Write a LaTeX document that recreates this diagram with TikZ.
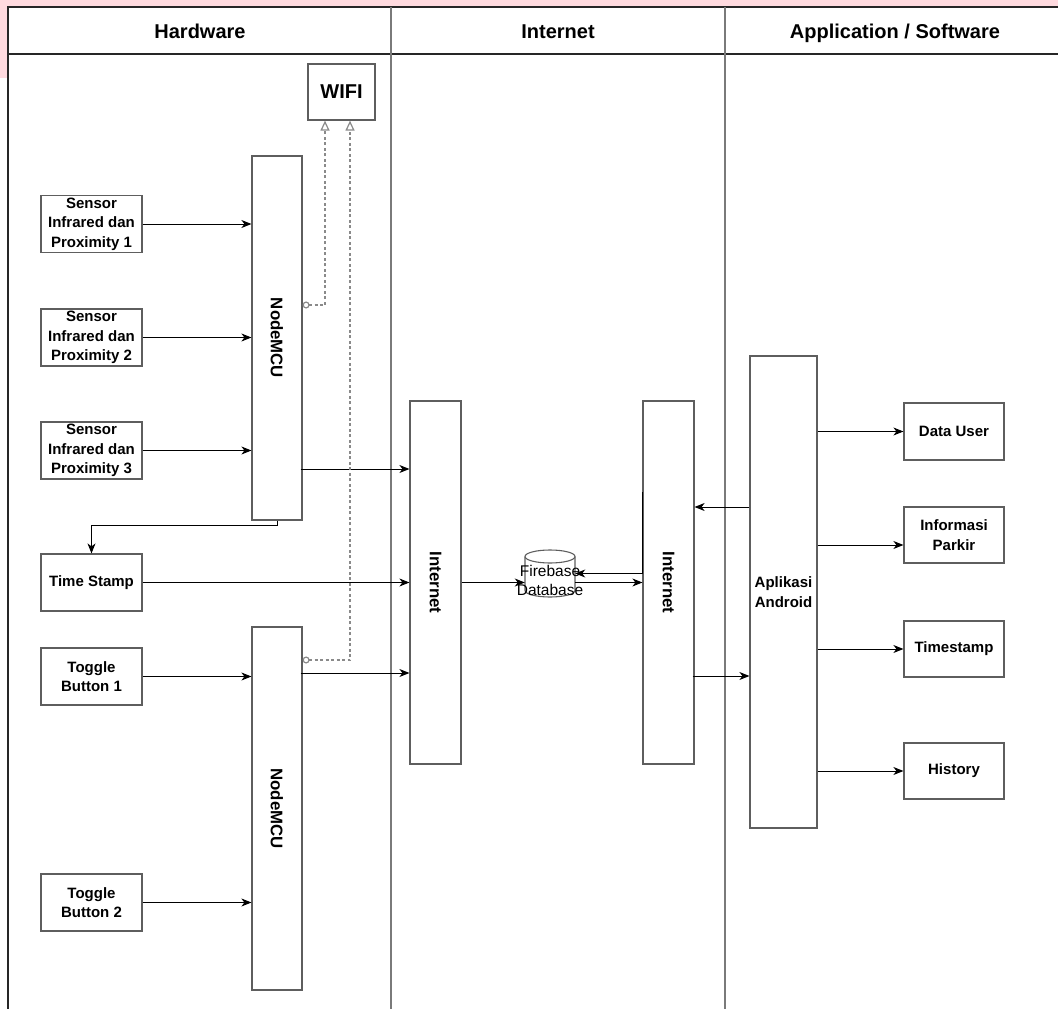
\documentclass[tikz,border=0pt]{standalone}
\usepackage{fontspec}
\setmainfont{Liberation Sans}
\usetikzlibrary{arrows.meta,calc}
\definecolor{pinkbg}{HTML}{FFDADF}
\definecolor{boxgray}{HTML}{5E5E5E}
\definecolor{sepgray}{HTML}{7A7A7A}
\definecolor{dashgray}{HTML}{8A8A8A}
\begin{document}
\begin{tikzpicture}[x=1pt,y=-1pt,
  box/.style={draw=boxgray, line width=1.2pt, fill=white, inner sep=0pt, align=center,
    font=\fontsize{15}{19.5}\selectfont\bfseries},
  vbox/.style={draw=boxgray, line width=1.2pt, fill=white, inner sep=0pt},
  vlabel/.style={rotate=-90, font=\fontsize{16.8}{20}\selectfont\bfseries, inner sep=0pt},
  hdr/.style={font=\fontsize{20}{24}\selectfont\bfseries, inner sep=0pt, text height=14.5pt, text depth=0pt},
  arr/.style={draw=black, line width=1pt, -{Stealth[length=10pt,width=8pt,inset=3pt]}},
  wifiline/.style={draw=dashgray, line width=1.2pt, dash pattern=on 3pt off 2.5pt,
    {Circle[open,length=7pt,width=7pt]}-{Triangle[open,length=10pt,width=9pt]}},
  tline/.style={draw=black!85, line width=1.2pt},
  sline/.style={draw=sepgray, line width=1.2pt}]
\useasboundingbox (0,0) rectangle (1058,1009);
% pink page background fragments
\fill[pinkbg] (0,0) rectangle (1058,7);
\fill[pinkbg] (0,0) rectangle (8,78);
% table
\draw[tline] (8,1009) -- (8,7) -- (1058,7);
\draw[tline] (8,54) -- (1058,54);
\draw[sline] (391,7) -- (391,1009);
\draw[sline] (725,7) -- (725,1009);
\node[hdr] (h1) at (200,31) {Hardware};
\node[hdr] (h2) at (558,31) {Internet};
\node[hdr] (h3) at (895,31) {Application / Software};

% hardware column
\node[box, minimum width=67pt, minimum height=56pt, font=\fontsize{20}{24}\selectfont\bfseries] (wifi) at (341.5,92) {WIFI};
\node[box, minimum width=101pt, minimum height=57pt] (s1) at (91.5,224) {Sensor\\Infrared dan\\Proximity 1};
\node[box, minimum width=101pt, minimum height=57pt] (s2) at (91.5,337.5) {Sensor\\Infrared dan\\Proximity 2};
\node[box, minimum width=101pt, minimum height=57pt] (s3) at (91.5,450.5) {Sensor\\Infrared dan\\Proximity 3};
\node[box, minimum width=101pt, minimum height=57pt] (ts) at (91.5,582.5) {Time Stamp};
\node[box, minimum width=101pt, minimum height=57pt] (t1) at (91.5,676.5) {Toggle\\Button 1};
\node[box, minimum width=101pt, minimum height=57pt] (t2) at (91.5,902.5) {Toggle\\Button 2};
\node[vbox, minimum width=50pt, minimum height=364pt] (n1) at (277,338) {};
\node[vlabel] (n1l) at (n1.center) {NodeMCU};
\node[vbox, minimum width=50pt, minimum height=363pt] (n2) at (277,808.5) {};
\node[vlabel] (n2l) at (n2.center) {NodeMCU};

% internet column
\node[vbox, minimum width=51pt, minimum height=363pt] (i1) at (435.5,582.5) {};
\node[vlabel] (i1l) at (i1.center) {Internet};
\node[vbox, minimum width=51pt, minimum height=363pt] (i2) at (668.5,582.5) {};
\node[vlabel] (i2l) at (i2.center) {Internet};
\node[minimum width=50pt, minimum height=47pt, inner sep=0pt] (fb) at (550,573.5) {};
\draw[draw=boxgray, line width=1.1pt] (525,556.5) -- (525,590.5)
  arc[start angle=180, end angle=360, x radius=25pt, y radius=6.5pt] -- (575,556.5);
\draw[draw=boxgray, line width=1.1pt] (550,556.5) ellipse [x radius=25pt, y radius=6.5pt];

% application column
\node[vbox, minimum width=67pt, minimum height=472pt] (app) at (783.5,592) {};
\node[align=center, inner sep=0pt, font=\fontsize{15}{19.5}\selectfont\bfseries] (appl) at (app.center) {Aplikasi\\Android};
\node[box, minimum width=100pt, minimum height=57pt] (du) at (954,431.5) {Data User};
\node[box, minimum width=100pt, minimum height=56pt] (ip) at (954,535) {Informasi\\Parkir};
\node[box, minimum width=100pt, minimum height=56pt] (tm) at (954,649) {Timestamp};
\node[box, minimum width=100pt, minimum height=56pt] (hi) at (954,771) {History};

% hardware connectors
\draw[arr] (s1.east) -- (s1.east -| n1.west);
\draw[arr] (s2.east) -- (s2.east -| n1.west);
\draw[arr] (s3.east) -- (s3.east -| n1.west);
\draw[arr] (t1.east) -- (t1.east -| n2.west);
\draw[arr] (t2.east) -- (t2.east -| n2.west);
\draw[arr] (n1.south) -- ++(0,5) -| (ts.north);
\coordinate (p1) at ($(n1.east)+(-2,131)$);
\draw[arr] (p1) -- (p1 -| i1.west);
\draw[arr] (ts.east) -- (ts.east -| i1.west);
\coordinate (p2) at ($(n2.east)+(-2,-135.5)$);
\draw[arr] (p2) -- (p2 -| i1.west);
\draw[wifiline] ($(n1.east)+(0,-33)$) -| ($(wifi.south)+(-16.5,0)$);
\draw[wifiline] ($(n2.east)+(0,-148.5)$) -| ($(wifi.south)+(8.5,0)$);

% internet connectors
\draw[arr] (i1.east) -- (i1.east -| fb.west);
\draw[arr] (i1.east -| fb.east) -- (i2.west);
\draw[arr] ($(i2.west)+(0,-90.5)$) |- (fb.east);
\coordinate (p3) at ($(app.west)+(0,-85)$);
\draw[arr] (p3) -- (p3 -| i2.east);
\coordinate (p4) at ($(i2.east)+(-2,93.5)$);
\draw[arr] (p4) -- (p4 -| app.west);
\node[align=center, inner sep=0pt, font=\fontsize{15.5}{19}\selectfont] (fbl) at (550,580.5) {Firebase\\Database};

% application connectors
\draw[arr] (du.west -| app.east) -- (du.west);
\draw[arr] ($(ip.west -| app.east)+(0,10)$) -- ($(ip.west)+(0,10)$);
\draw[arr] (tm.west -| app.east) -- (tm.west);
\draw[arr] (hi.west -| app.east) -- (hi.west);
\end{tikzpicture}
\end{document}
